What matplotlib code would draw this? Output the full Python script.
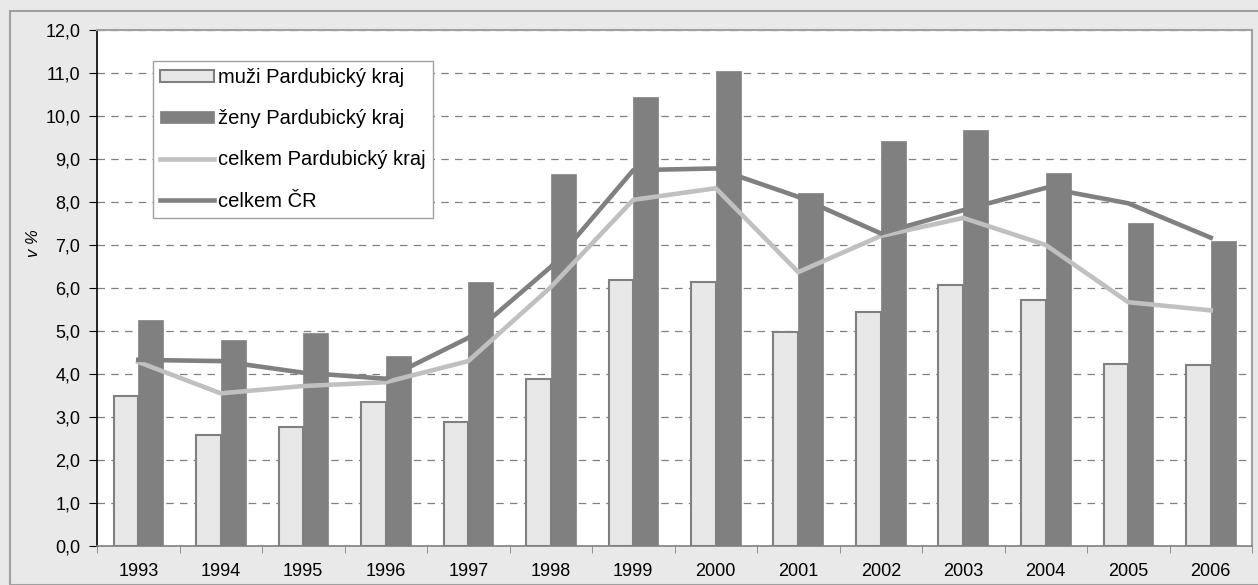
import numpy as np
import matplotlib
matplotlib.use("Agg")
from matplotlib import pyplot as plt
from matplotlib.ticker import FuncFormatter, FixedLocator

# hodnoty
roky = [1993, 1994, 1995, 1996, 1997, 1998, 1999, 2000, 2001, 2002, 2003, 2004, 2005, 2006]
muzi_pk = [3.48, 2.58, 2.77, 3.35, 2.88, 3.88, 6.19, 6.15, 4.98, 5.45, 6.08, 5.72, 4.24, 4.22]
zeny_pk = [5.25, 4.78, 4.95, 4.41, 6.15, 8.64, 10.44, 11.05, 8.21, 9.42, 9.67, 8.67, 7.51, 7.09]
celkem_pk = [4.28, 3.55, 3.72, 3.81, 4.30, 6.02, 8.05, 8.32, 6.37, 7.21, 7.63, 7.00, 5.67, 5.48]
celkem_cr = [4.33, 4.30, 4.03, 3.89, 4.84, 6.49, 8.74, 8.78, 8.12, 7.27, 7.81, 8.33, 7.97, 7.17]

plt.rcParams['font.family'] = ['Liberation Sans', 'DejaVu Sans']

fig = plt.figure(figsize=(12.58, 5.85), dpi=100)
fig.patch.set_facecolor('#e9e9e9')
# rámeček kolem celého obrázku
fig.patches.append(plt.Rectangle((10 / 1258, 0), 1.0, 1 - 11 / 585, transform=fig.transFigure,
                                 fill=False, edgecolor='#a0a0a0', linewidth=1.5))

ax = fig.add_axes([97 / 1258, 39 / 585, 1155 / 1258, 516 / 585])
ax.set_facecolor('white')

x = np.arange(len(roky))
w = 0.3
b1 = ax.bar(x - w / 2, muzi_pk, w, color='#e8e8e8', edgecolor='#808080', linewidth=1.5,
            label='muži Pardubický kraj', zorder=3)
b2 = ax.bar(x + w / 2, zeny_pk, w, color='#808080', edgecolor='#808080', linewidth=0.5,
            label='ženy Pardubický kraj', zorder=3)
l1, = ax.plot(x, celkem_pk, color='#c0c0c0', linewidth=3.3, label='celkem Pardubický kraj', zorder=4)
l2, = ax.plot(x, celkem_cr, color='#808080', linewidth=3.3, label='celkem ČR', zorder=4)

ax.set_xlim(-0.5, len(roky) - 0.5)
ax.set_ylim(0, 12)
ax.set_yticks(np.arange(0, 12.1, 1.0))
ax.yaxis.set_major_formatter(FuncFormatter(lambda v, p: f"{v:.1f}".replace('.', ',')))
ax.set_xticks(x)
ax.set_xticklabels([str(r) for r in roky])
ax.xaxis.set_minor_locator(FixedLocator(np.arange(-0.5, len(roky), 1.0)))
ax.tick_params(axis='x', which='major', length=0, pad=12, labelsize=13)
ax.tick_params(axis='x', which='minor', length=5, color='#808080', direction='out')
ax.tick_params(axis='y', length=6, color='black', labelsize=13, pad=6)

ax.grid(axis='y', color='#808080', linestyle=(0, (6, 5)), linewidth=0.9, zorder=0)
ax.set_axisbelow(True)

ax.spines['left'].set_color('black')
ax.spines['left'].set_linewidth(1.2)
ax.spines['bottom'].set_color('#808080')
ax.spines['bottom'].set_linewidth(1.2)
ax.spines['top'].set_color('#a0a0a0')
ax.spines['right'].set_color('#a0a0a0')
ax.spines['top'].set_linewidth(1.5)
ax.spines['right'].set_linewidth(1.5)

fig.text(33 / 1258, 1 - 243 / 585, 'v %', rotation=90, style='italic', fontsize=12,
         ha='center', va='center')

leg = ax.legend([b1, b2, l1, l2], [h.get_label() for h in (b1, b2, l1, l2)],
                loc='upper left', bbox_to_anchor=(56 / 1155, 1 - 31 / 516), borderaxespad=0,
                fontsize=14.5, frameon=True, fancybox=False, edgecolor='#a0a0a0', framealpha=1,
                handlelength=2.7, handleheight=0.6, handletextpad=0.2, labelspacing=1.1,
                borderpad=0.35)
leg.get_frame().set_linewidth(1.0)
leg.set_zorder(10)

fig.savefig('out.png', dpi=100, facecolor=fig.get_facecolor())
